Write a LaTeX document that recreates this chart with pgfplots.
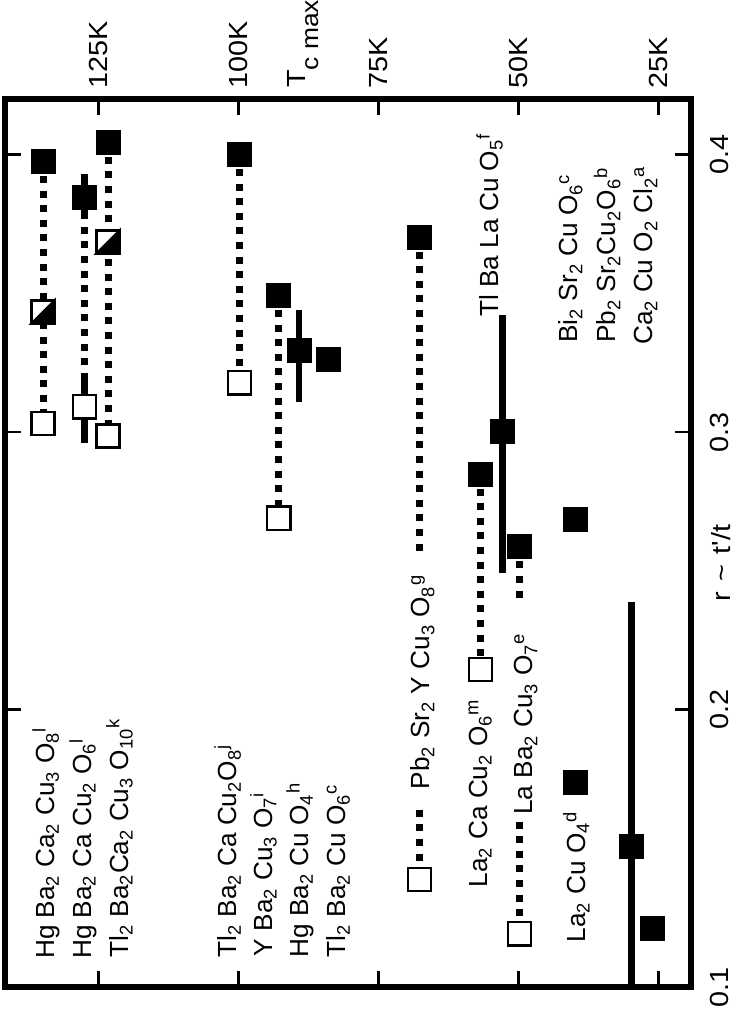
\documentclass[border=0pt]{standalone}
\usepackage{fontspec}
\setmainfont{Liberation Sans}
\newfontfamily\widefont{Liberation Sans}[FakeStretch=1.1]
\usepackage{pgfplots}
\pgfplotsset{compat=1.18}

\newcommand{\sbs}[1]{\textsubscript{#1}}
\newcommand{\sps}[1]{\textsuperscript{#1}}

\tikzset{
  dotln/.style={no marks, line width=3.5pt, dash pattern=on 3.5pt off 3.8pt},
  rng/.style={no marks, line width=3.4pt},
  lab/.style={rotate=90, anchor=base west, inner sep=0pt},
}

% open square with the lower right half filled
\pgfdeclareplotmark{halfsquare}{%
  \pgfpathrectangle{\pgfqpoint{-\pgfplotmarksize}{-\pgfplotmarksize}}{\pgfqpoint{2\pgfplotmarksize}{2\pgfplotmarksize}}%
  \pgfsetfillcolor{white}\pgfusepathqfillstroke
  \pgfpathmoveto{\pgfqpoint{-\pgfplotmarksize}{-\pgfplotmarksize}}%
  \pgfpathlineto{\pgfqpoint{\pgfplotmarksize}{-\pgfplotmarksize}}%
  \pgfpathlineto{\pgfqpoint{\pgfplotmarksize}{\pgfplotmarksize}}%
  \pgfpathclose
  \pgfsetfillcolor{black}\pgfusepathqfillstroke
}

\begin{document}
\fontsize{13.1}{15}\selectfont
\begin{tikzpicture}
\path (-2.5pt,-14.5pt) rectangle (369pt,493.5pt);
\begin{axis}[
  at={(0,0)}, anchor=south west,
  width=343pt, height=444pt, scale only axis,
  x dir=reverse,
  xmin=19.2, xmax=141.7,
  ymin=0.1, ymax=0.42,
  clip=false,
  axis line style={line width=3.2pt},
  tick style={line width=1.2pt, black},
  major tick length=8pt,
  tick align=inside,
  xtick={25,50,75,100,125},
  xticklabels={25K,50K,75K,100K,125K},
  xticklabel pos=upper,
  xtick pos=both,
  xticklabel style={rotate=90, anchor=west, font=\widefont},
  xticklabel shift=1pt,
  ytick={0.1,0.2,0.3,0.4},
  yticklabels={0.1,0.2,0.3,0.4},
  yticklabel pos=right,
  ytick pos=both,
  yticklabel style={rotate=90, anchor=north, font=\widefont},
  yticklabel shift=5pt,
]
% dotted links between the two r estimates
\addplot[dotln] coordinates {(134.9,0.3976) (134.9,0.3031)};
\addplot[dotln] coordinates {(127.5,0.3845) (127.5,0.3091)};
\addplot[dotln] coordinates {(123.3,0.4045) (123.3,0.2986)};
\addplot[dotln] coordinates {(99.8,0.4001) (99.8,0.3178)};
\addplot[dotln] coordinates {(92.8,0.3493) (92.8,0.2690)};
\addplot[dotln] coordinates {(67.7,0.3703) (67.7,0.2564)};
\addplot[dotln] coordinates {(67.7,0.1639) (67.7,0.1387)};
\addplot[dotln] coordinates {(56.8,0.2849) (56.8,0.2145)};
\addplot[dotln] coordinates {(49.8,0.2587) (49.8,0.2395)};
\addplot[dotln] coordinates {(49.8,0.1596) (49.8,0.1192)};
% ranges
\addplot[rng] coordinates {(127.5,0.3929) (127.5,0.3767)};
\addplot[rng] coordinates {(127.5,0.3214) (127.5,0.2961)};
\addplot[rng] coordinates {(89.2,0.3442) (89.2,0.3109)};
\addplot[rng] coordinates {(52.8,0.3421) (52.8,0.2493)};
\addplot[rng] coordinates {(29.75,0.2389) (29.75,0.1)};
% filled squares
\addplot[only marks, mark=square*, mark size=6pt, mark options={fill=black, draw=black, line width=0.4pt}] coordinates {
  (134.9,0.3976) (127.5,0.3845) (123.3,0.4045) (99.8,0.4001) (92.8,0.3493)
  (89.2,0.3295) (84.0,0.3262) (67.7,0.3703) (52.8,0.3001) (56.8,0.2849)
  (49.8,0.2587) (39.8,0.2686) (39.8,0.1737) (29.75,0.1507) (26.1,0.1213)
};
% open squares
\addplot[only marks, mark=square*, mark size=5.8pt, mark options={fill=white, draw=black, line width=1.2pt}] coordinates {
  (134.9,0.3031) (127.5,0.3091) (123.3,0.2986) (99.8,0.3178) (92.8,0.2690)
  (67.7,0.1387) (56.8,0.2145) (49.8,0.1192)
};
% half filled squares
\addplot[only marks, mark=halfsquare, mark size=5.8pt, mark options={draw=black, line width=1.2pt}] coordinates {
  (134.9,0.3433) (123.3,0.3685)
};
% compound labels
\node[lab] at (axis cs:132.9,0.1100) {Hg Ba\sbs{2} Ca\sbs{2} Cu\sbs{3} O\sbs{8}\sps{l}};
\node[lab] at (axis cs:126.3,0.1100) {Hg Ba\sbs{2} Ca Cu\sbs{2} O\sbs{6}\sps{l}};
\node[lab] at (axis cs:119.7,0.1105) {Tl\sbs{2} Ba\sbs{2}Ca\sbs{2} Cu\sbs{3} O\sbs{10}\sps{k}};
\node[lab] at (axis cs:100.4,0.1105) {Tl\sbs{2} Ba\sbs{2} Ca Cu\sbs{2}O\sbs{8}\sps{j}};
\node[lab] at (axis cs:94.0,0.1110) {Y Ba\sbs{2} Cu\sbs{3} O\sbs{7}\sps{i}};
\node[lab] at (axis cs:87.5,0.1105) {Hg Ba\sbs{2} Cu O\sbs{4}\sps{h}};
\node[lab] at (axis cs:80.9,0.1105) {Tl\sbs{2} Ba\sbs{2} Cu O\sbs{6}\sps{c}};
\node[lab] at (axis cs:65.8,0.1711) {Pb\sbs{2} Sr\sbs{2} Y Cu\sbs{3} O\sbs{8}\sps{g}};
\node[lab] at (axis cs:55.6,0.1358) {La\sbs{2} Ca Cu\sbs{2} O\sbs{6}\sps{m}};
\node[lab] at (axis cs:47.4,0.1620) {La Ba\sbs{2} Cu\sbs{3} O\sbs{7}\sps{e}};
\node[lab] at (axis cs:38.1,0.1160) {La\sbs{2} Cu O\sbs{4}\sps{d}};
\node[lab] at (axis cs:53.6,0.3415) {Tl Ba La Cu O\sbs{5}\sps{f}};
\node[lab] at (axis cs:39.4,0.3320) {Bi\sbs{2} Sr\sbs{2} Cu O\sbs{6}\sps{c}};
\node[lab] at (axis cs:32.6,0.3320) {Pb\sbs{2} Sr\sbs{2}Cu\sbs{2}O\sbs{6}\sps{b}};
\node[lab] at (axis cs:26.0,0.3313) {Ca\sbs{2} Cu O\sbs{2} Cl\sbs{2}\sps{a}};
% axis titles
\node[lab, font=\widefont] at (axis cs:88.1,0.4239) {T\raisebox{-6.5pt}{\fontsize{12}{12}\selectfont c max}};
\node[lab, font=\widefont] at (axis cs:12.2,0.2388) {r\hspace{0.4em}\textasciitilde\hspace{0.4em}t'/t};
\end{axis}
\end{tikzpicture}
\end{document}
